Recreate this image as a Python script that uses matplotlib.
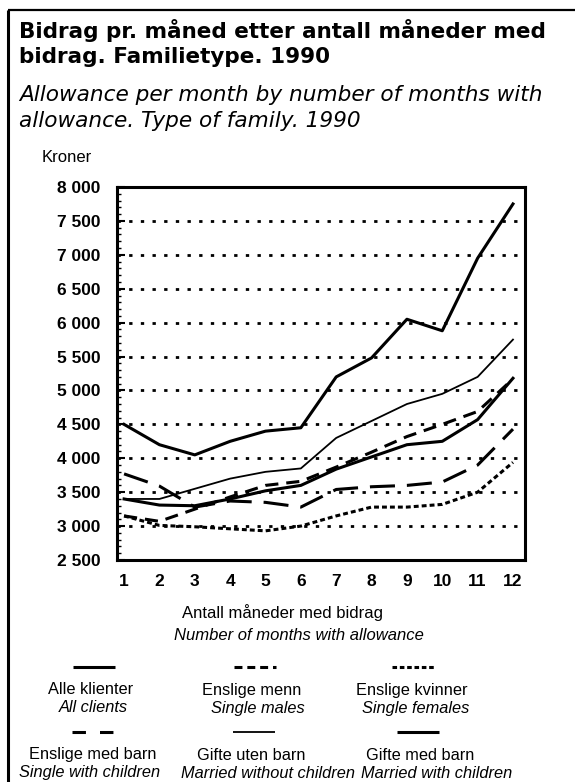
import numpy as np
import matplotlib.pyplot as plt
from matplotlib.lines import Line2D
from matplotlib.ticker import MultipleLocator, FuncFormatter

plt.rcParams['font.family'] = ['Liberation Sans', 'DejaVu Sans']

# months with allowance
months = np.arange(1, 13)

# allowance per month, kroner
gifte_med_barn = [4500, 4200, 4050, 4250, 4400, 4450, 5200, 5480, 6050, 5880, 6950, 7750]
gifte_uten_barn = [3400, 3400, 3550, 3700, 3800, 3850, 4300, 4550, 4800, 4950, 5200, 5750]
alle_klienter = [3400, 3310, 3300, 3400, 3520, 3600, 3840, 4020, 4200, 4250, 4570, 5180]
enslige_menn = [3150, 3070, 3250, 3430, 3600, 3660, 3870, 4090, 4320, 4500, 4690, 5170]
enslige_med_barn = [3770, 3590, 3280, 3370, 3350, 3280, 3540, 3580, 3600, 3650, 3900, 4430]
enslige_kvinner = [3150, 3010, 2990, 2960, 2930, 3000, 3150, 3280, 3280, 3320, 3500, 3940]

W, H = 575, 782
fig = plt.figure(figsize=(W / 100, H / 100), dpi=100)

# overlay in pixel coordinates for frame, titles and legend
bg = fig.add_axes([0, 0, 1, 1])
bg.set_xlim(0, W)
bg.set_ylim(H, 0)
bg.axis('off')

bg.plot([8, 8], [10, H], color='black', lw=2.2, solid_capstyle='butt')
bg.plot([8, W], [10, 10], color='black', lw=1.6, solid_capstyle='butt')

wide = ['DejaVu Sans']
bg.text(19, 30, 'Bidrag pr. måned etter antall måneder med', fontsize=15.5,
        fontweight='bold', family=wide, va='center', ha='left')
bg.text(19, 57, 'bidrag. Familietype. 1990', fontsize=15.5,
        fontweight='bold', family=wide, va='center', ha='left')
bg.text(19, 95, 'Allowance per month by number of months with', fontsize=15.6,
        style='italic', family=wide, va='center', ha='left')
bg.text(19, 121, 'allowance. Type of family. 1990', fontsize=15.6,
        style='italic', family=wide, va='center', ha='left')
bg.text(42, 157, 'Kroner', fontsize=12, va='center', ha='left')

bg.text(282, 613, 'Antall måneder med bidrag', fontsize=12, va='center', ha='center')
bg.text(299, 636, 'Number of months with allowance', fontsize=12,
        style='italic', va='center', ha='center')

# series styles
lw = 2.2
styles = {
    'Alle klienter': dict(color='black', lw=lw, ls='-'),
    'Enslige menn': dict(color='black', lw=lw, ls=(0, (4.3, 2.6))),
    'Enslige kvinner': dict(color='black', lw=lw, ls=(0, (1.6, 1.0))),
    'Enslige med barn': dict(color='black', lw=lw, ls=(0, (8.2, 3.9))),
    'Gifte uten barn': dict(color='black', lw=1.3, ls='-'),
    'Gifte med barn': dict(color='black', lw=lw, ls='-'),
}
legend_ls = {
    'Enslige menn': (0, (2.6, 1.6)),
    'Enslige kvinner': (0, (1.5, 0.9)),
    'Enslige med barn': (0, (4.4, 4.6)),
}

legend_items = [
    ('Alle klienter', 'All clients', 94, 667, 91, 93),
    ('Enslige menn', 'Single males', 255, 667, 252, 258),
    ('Enslige kvinner', 'Single females', 413, 667, 412, 416),
    ('Enslige med barn', 'Single with children', 93, 732, 93, 90),
    ('Gifte uten barn', 'Married without children', 254, 732, 251, 268),
    ('Gifte med barn', 'Married with children', 418, 732, 420, 437),
]
for no, en, lx, ly, tx, ex in legend_items:
    st = dict(styles[no])
    if no in legend_ls:
        st['ls'] = legend_ls[no]
    bg.add_line(Line2D([lx - 21, lx + 21], [ly, ly], solid_capstyle='butt', **st))
    bg.text(tx, ly + 23, no, fontsize=11.8, va='center', ha='center')
    bg.text(ex, ly + 41, en, fontsize=11.8, style='italic', va='center', ha='center')

# main chart
ax = fig.add_axes([117 / W, 1 - 560 / H, 408 / W, 373 / H])
ax.plot(months, gifte_med_barn, **styles['Gifte med barn'])
ax.plot(months, gifte_uten_barn, **styles['Gifte uten barn'])
ax.plot(months, alle_klienter, **styles['Alle klienter'])
ax.plot(months, enslige_menn, **styles['Enslige menn'])
ax.plot(months, enslige_med_barn, **styles['Enslige med barn'])
ax.plot(months, enslige_kvinner, **styles['Enslige kvinner'])

ax.set_xlim(0.8, 12.34)
ax.set_ylim(2500, 8000)
ax.set_xticks(months)
ax.yaxis.set_major_locator(MultipleLocator(500))
ax.yaxis.set_minor_locator(MultipleLocator(100))
ax.yaxis.set_major_formatter(FuncFormatter(lambda v, p: f'{int(v):,}'.replace(',', ' ')))
ax.tick_params(axis='x', length=0, pad=10, labelsize=12.5)
ax.tick_params(axis='y', which='major', direction='in', length=6, width=1.5,
               pad=12, labelsize=12.5)
ax.tick_params(axis='y', which='minor', direction='in', length=3, width=1)
for lab in ax.get_xticklabels() + ax.get_yticklabels():
    lab.set_fontweight('bold')

for v in range(3000, 8000, 500):
    ax.axhline(v, color='black', lw=2.0, ls=(0, (1.2, 3.0)), zorder=0)

for s in ax.spines.values():
    s.set_linewidth(2.2)

fig.savefig('out.png', dpi=100)
